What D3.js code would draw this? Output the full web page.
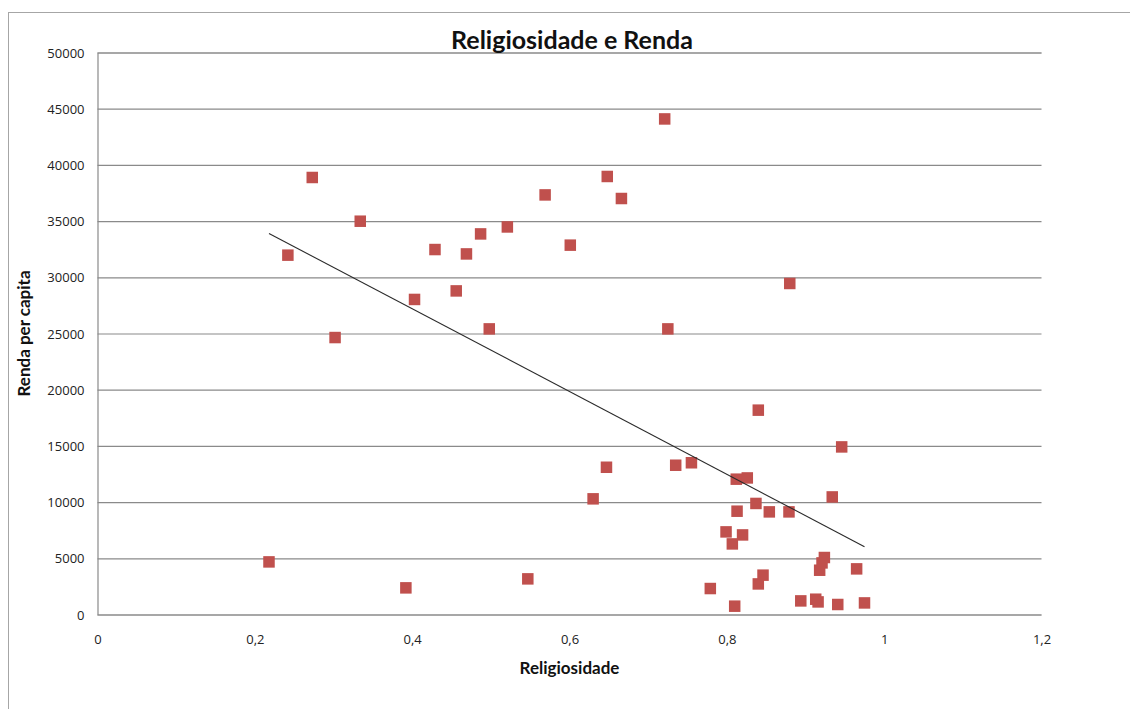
<!DOCTYPE html>
<html>
<head>
<meta charset="utf-8">
<script src="https://cdn.jsdelivr.net/npm/d3@7"></script>
<style>
  html, body { margin: 0; padding: 0; background: #fff; }
  svg { display: block; }
</style>
</head>
<body>
<svg id="chart" width="1130" height="709"></svg>
<script>
// Religiosidade (fração da população) por país
const religiosidade = [
  0.218, 0.242, 0.273, 0.302, 0.334, 0.392, 0.403, 0.429, 0.456, 0.469,
  0.487, 0.498, 0.521, 0.547, 0.569, 0.601, 0.630, 0.647, 0.648, 0.666,
  0.721, 0.725, 0.735, 0.755, 0.779, 0.799, 0.807, 0.810, 0.812, 0.813,
  0.820, 0.826, 0.837, 0.840, 0.840, 0.846, 0.854, 0.879, 0.880, 0.894,
  0.913, 0.916, 0.918, 0.921, 0.924, 0.934, 0.941, 0.946, 0.965, 0.975
];

// Renda per capita correspondente
const renda = [
  4680, 31970, 38880, 24640, 34990, 2370, 28030, 32470, 28790, 32080,
  33860, 25410, 34480, 3170, 37330, 32860, 10290, 13100, 38970, 37010,
  44090, 25410, 13280, 13500, 2310, 7350, 6280, 740, 12040, 9190,
  7080, 12150, 9880, 18180, 2720, 3500, 9130, 9130, 29450, 1210,
  1360, 1120, 3940, 4590, 5070, 10460, 890, 14910, 4060, 1030
];

const xTicks = [0, 0.2, 0.4, 0.6, 0.8, 1, 1.2];
const xTickLabels = ["0", "0,2", "0,4", "0,6", "0,8", "1", "1,2"];
const yTicks = [0, 5000, 10000, 15000, 20000, 25000, 30000, 35000, 40000, 45000, 50000];
const yTickLabels = yTicks.map(String);

const titleText = "Religiosidade e Renda";
const xTitle = "Religiosidade";
const yTitle = "Renda per capita";

const points = religiosidade.map((r, i) => ({ x: r, y: renda[i] }));

const svg = d3.select("#chart");
const plot = { left: 97.5, right: 1041.5, top: 52.5, bottom: 614.5 };

const x = d3.scaleLinear().domain([0, 1.2]).range([plot.left, plot.right]);
const y = d3.scaleLinear().domain([0, 50000]).range([plot.bottom, plot.top]);

const gridColor = "#8a8a8a";
const tickFont = "'Open Sans', 'DejaVu Sans', sans-serif";
const titleFont = "Lato, 'Open Sans', sans-serif";

// Chart frame
svg.append("rect")
  .attr("x", 8.5).attr("y", 12.5)
  .attr("width", 1200).attr("height", 800)
  .attr("fill", "#fff")
  .attr("stroke", "#a6a6a6").attr("stroke-width", 1);

// Horizontal gridlines (including the zero baseline)
const yAxis = d3.axisLeft(y)
  .tickValues(yTicks)
  .tickSize(-(plot.right - plot.left))
  .tickFormat((d, i) => yTickLabels[i]);

const gy = svg.append("g")
  .attr("transform", `translate(${plot.left},0)`)
  .call(yAxis);
gy.select(".domain").attr("stroke", gridColor).attr("stroke-width", 1.2);
gy.selectAll(".tick line").attr("stroke", gridColor).attr("stroke-width", 1.2);
gy.selectAll(".tick text")
  .attr("x", -13)
  .attr("dy", "0.35em")
  .attr("fill", "#222")
  .style("font-family", tickFont)
  .style("font-size", "13px");

// X axis labels only (baseline is the zero gridline)
const xAxis = d3.axisBottom(x)
  .tickValues(xTicks)
  .tickSize(0)
  .tickFormat((d, i) => xTickLabels[i]);

const gx = svg.append("g")
  .attr("transform", `translate(0,${plot.bottom})`)
  .call(xAxis);
gx.select(".domain").remove();
gx.selectAll(".tick text")
  .attr("y", 25)
  .attr("dy", "0.35em")
  .attr("fill", "#222")
  .style("font-family", tickFont)
  .style("font-size", "13px");

// Linear trendline (least squares over the data)
const mx = d3.mean(religiosidade), my = d3.mean(renda);
const sxy = d3.sum(points, p => (p.x - mx) * (p.y - my));
const sxx = d3.sum(points, p => (p.x - mx) ** 2);
const slope = sxy / sxx;
const intercept = my - slope * mx;
const [xmin, xmax] = d3.extent(religiosidade);
const trend = [xmin, xmax].map(v => ({ x: v, y: intercept + slope * v }));

// Markers
const size = 11.5;
svg.append("g")
  .selectAll("rect")
  .data(points)
  .join("rect")
  .attr("x", d => x(d.x) - size / 2)
  .attr("y", d => y(d.y) - size / 2)
  .attr("width", size)
  .attr("height", size)
  .attr("fill", "#c0504d");

svg.append("path")
  .datum(trend)
  .attr("d", d3.line().x(d => x(d.x)).y(d => y(d.y)))
  .attr("fill", "none")
  .attr("stroke", "#2b2b2b")
  .attr("stroke-width", 1.1);

// Titles
svg.append("text")
  .attr("x", 572).attr("y", 49)
  .attr("text-anchor", "middle")
  .style("font-family", titleFont)
  .style("font-weight", "bold")
  .style("font-size", "25px")
  .attr("fill", "#111")
  .text(titleText);

svg.append("text")
  .attr("x", (plot.left + plot.right) / 2).attr("y", 674)
  .attr("text-anchor", "middle")
  .style("font-family", titleFont)
  .style("font-weight", "bold")
  .style("font-size", "17px")
  .attr("fill", "#111")
  .text(xTitle);

svg.append("text")
  .attr("transform", `translate(30,${(plot.top + plot.bottom) / 2}) rotate(-90)`)
  .attr("text-anchor", "middle")
  .style("font-family", titleFont)
  .style("font-weight", "bold")
  .style("font-size", "17px")
  .attr("fill", "#111")
  .text(yTitle);
</script>
</body>
</html>
